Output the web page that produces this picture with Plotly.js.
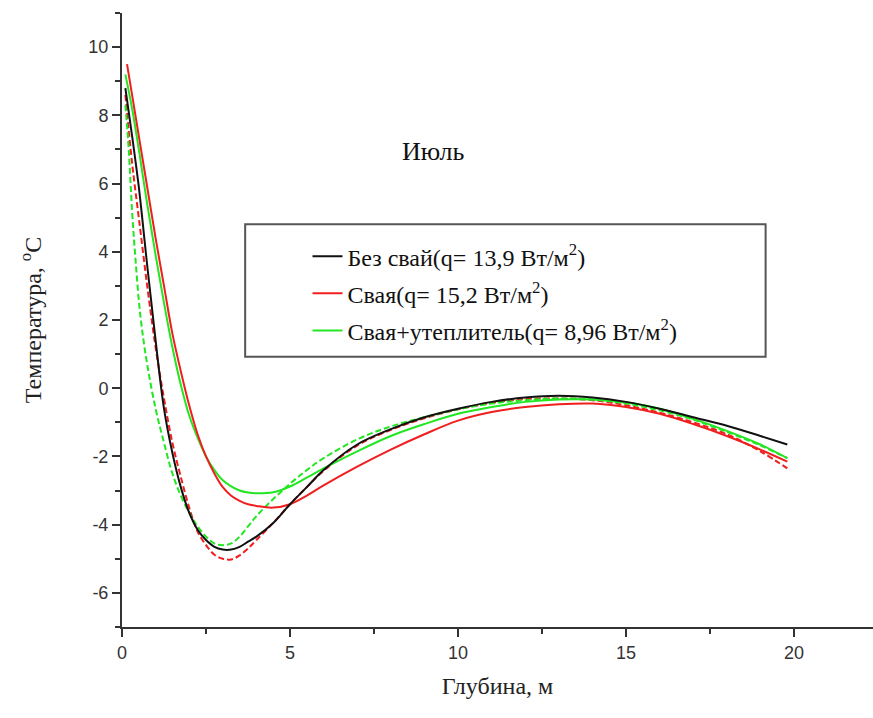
<!DOCTYPE html>
<html>
<head>
<meta charset="utf-8">
<script src="https://cdn.plot.ly/plotly-3.0.1.min.js"></script>
<style>html,body{margin:0;padding:0;background:#fff;}#chart{width:873px;height:718px;}</style>
</head>
<body>
<div id="chart"></div>
<script>
// Depth (m) and temperature (°C) values
var depthBlack = [0.1,0.3,0.5,0.75,1.0,1.25,1.5,1.75,2.0,2.25,2.5,2.75,3.0,3.25,3.5,3.75,4.0,4.5,5.0,5.5,6.0,7.0,8.0,9.0,10,11,12,13,14,15,16,17,18,19,19.8];
var tempBlack  = [8.8,7.4,5.9,3.6,1.4,-0.6,-1.9,-2.9,-3.65,-4.15,-4.45,-4.65,-4.73,-4.73,-4.65,-4.5,-4.35,-3.95,-3.4,-2.9,-2.4,-1.65,-1.2,-0.85,-0.6,-0.4,-0.27,-0.22,-0.27,-0.4,-0.6,-0.85,-1.1,-1.4,-1.65];

var depthRed = [0.15,0.3,0.5,0.75,1.0,1.25,1.5,1.75,2.0,2.25,2.5,2.75,3.0,3.25,3.5,3.75,4.0,4.5,5.0,5.5,6.0,7.0,8.0,9.0,10,11,12,13,14,15,16,17,18,19,19.8];
var tempRed  = [9.5,8.6,7.4,5.9,4.4,3.0,1.6,0.5,-0.5,-1.35,-2.0,-2.5,-2.9,-3.15,-3.3,-3.4,-3.45,-3.5,-3.4,-3.15,-2.85,-2.3,-1.8,-1.35,-0.95,-0.7,-0.55,-0.47,-0.45,-0.55,-0.75,-1.05,-1.4,-1.8,-2.15];

var depthGreen = [0.1,0.3,0.5,0.75,1.0,1.25,1.5,1.75,2.0,2.25,2.5,2.75,3.0,3.25,3.5,3.75,4.0,4.5,5.0,5.5,6.0,7.0,8.0,9.0,10,11,12,13,14,15,16,17,18,19,19.8];
var tempGreen  = [9.2,8.2,7.0,5.4,3.9,2.5,1.2,0.1,-0.8,-1.45,-2.0,-2.4,-2.7,-2.88,-3.0,-3.06,-3.08,-3.05,-2.88,-2.62,-2.35,-1.85,-1.4,-1.05,-0.75,-0.55,-0.4,-0.33,-0.33,-0.42,-0.6,-0.9,-1.25,-1.65,-2.05];

var depthRedDash = [0.1,0.3,0.5,0.75,1.0,1.25,1.5,1.75,2.0,2.25,2.5,2.75,3.0,3.25,3.5,3.75,4.0,4.5,5.0,5.5,6.0,7.0,8.0,9.0,10,11,12,13,14,15,16,17,18,19,19.8];
var tempRedDash  = [8.6,6.6,5.0,3.0,1.2,-0.3,-1.6,-2.6,-3.5,-4.2,-4.6,-4.88,-5.0,-5.02,-4.9,-4.7,-4.45,-3.95,-3.4,-2.9,-2.42,-1.68,-1.22,-0.88,-0.62,-0.43,-0.32,-0.3,-0.35,-0.5,-0.72,-1.0,-1.35,-1.85,-2.35];

var depthGreenDash = [0.1,0.2,0.3,0.4,0.55,0.75,1.0,1.25,1.5,1.75,2.0,2.25,2.5,2.75,3.0,3.25,3.5,3.75,4.0,4.5,5.0,5.5,6.0,7.0,8.0,9.0,10,11,12,13,14,15,16,17,18,19,19.8];
var tempGreenDash  = [8.3,7.0,5.2,3.8,2.1,0.7,-0.6,-1.6,-2.5,-3.15,-3.65,-4.05,-4.35,-4.55,-4.6,-4.55,-4.35,-4.05,-3.75,-3.25,-2.8,-2.4,-2.05,-1.5,-1.12,-0.85,-0.62,-0.45,-0.35,-0.3,-0.33,-0.45,-0.65,-0.92,-1.28,-1.68,-2.05];

var seriesNames = [
  'Без свай(q= 13,9 Вт/м<sup>2</sup>)',
  'Свая(q= 15,2 Вт/м<sup>2</sup>)',
  'Свая+утеплитель(q= 8,96 Вт/м<sup>2</sup>)'
];
var xTickVals = [0, 5, 10, 15, 20];
var xTickText = ['0', '5', '10', '15', '20'];
var yTickVals = [-6, -4, -2, 0, 2, 4, 6, 8, 10];
var yTickText = ['-6', '-4', '-2', '0', '2', '4', '6', '8', '10'];
var xTitle = 'Глубина, м';
var yTitle = 'Температура, <sup>o</sup>C';
var panelLabel = 'Июль';

var cBlack = '#111111', cRed = '#f01e1e', cGreen = '#22e622';

var traces = [
  {x: depthRedDash, y: tempRedDash, mode:'lines', line:{color:cRed, width:2, dash:'6px,3px', shape:'spline'}, showlegend:false, hoverinfo:'skip'},
  {x: depthGreenDash, y: tempGreenDash, mode:'lines', line:{color:cGreen, width:2, dash:'6px,3px', shape:'spline'}, showlegend:false, hoverinfo:'skip'},
  {x: depthGreen, y: tempGreen, mode:'lines', name: seriesNames[2], legendgroup:'g3', line:{color:cGreen, width:2, shape:'spline'}, legendrank:3},
  {x: depthRed, y: tempRed, mode:'lines', name: seriesNames[1], legendgroup:'g2', line:{color:cRed, width:2, shape:'spline'}, legendrank:2},
  {x: depthBlack, y: tempBlack, mode:'lines', name: seriesNames[0], legendgroup:'g1', line:{color:cBlack, width:2, shape:'spline'}, legendrank:1}
];

var axisFont = {family:'Liberation Sans', size:18, color:'#333'};
var serif = 'Liberation Serif';

var layout = {
  width:873, height:718,
  margin:{l:122, r:0, t:13, b:91},
  paper_bgcolor:'#fff', plot_bgcolor:'#fff',
  font:{family:serif},
  showlegend:true,
  legend:{
    x:0.247, y:0.64, xanchor:'left', yanchor:'top',
    bgcolor:'rgba(0,0,0,0)', borderwidth:0,
    font:{family:serif, size:24, color:'#111'},
    traceorder:'grouped', tracegroupgap:3, itemwidth:30
  },
  xaxis:{
    range:[0, 22.35], showgrid:false, zeroline:false,
    showline:true, linecolor:'#333', linewidth:2,
    ticks:'outside', ticklen:8, tickwidth:2, tickcolor:'#333',
    tickmode:'array', tickvals:xTickVals, ticktext:xTickText, tickfont:axisFont,
    minor:{ticks:'outside', ticklen:5, tickwidth:2, tickcolor:'#333', dtick:2.5, tick0:0, showgrid:false},
    title:{text:xTitle, font:{family:serif, size:24, color:'#222'}, standoff:16}
  },
  yaxis:{
    range:[-7, 11], showgrid:false, zeroline:false,
    showline:true, linecolor:'#333', linewidth:2,
    ticks:'outside', ticklen:8, tickwidth:2, tickcolor:'#333',
    tickmode:'array', tickvals:yTickVals, ticktext:yTickText, tickfont:axisFont,
    minor:{ticks:'outside', ticklen:5, tickwidth:2, tickcolor:'#333', dtick:1, tick0:0, showgrid:false},
    title:{text:yTitle, font:{family:serif, size:24, color:'#222'}, standoff:40}
  },
  annotations:[
    {text:panelLabel, xref:'paper', yref:'paper', x:0.415, y:0.774, showarrow:false,
     font:{family:serif, size:26, color:'#111'}, xanchor:'center', yanchor:'middle'}
  ],
  shapes:[
    {type:'rect', xref:'paper', yref:'paper', x0:0.164, x1:0.857, y0:0.44, y1:0.656,
     line:{color:'#555', width:2}, fillcolor:'rgba(0,0,0,0)', layer:'below'}
  ]
};

Plotly.newPlot('chart', traces, layout, {displayModeBar:false, staticPlot:true});
</script>
</body>
</html>
